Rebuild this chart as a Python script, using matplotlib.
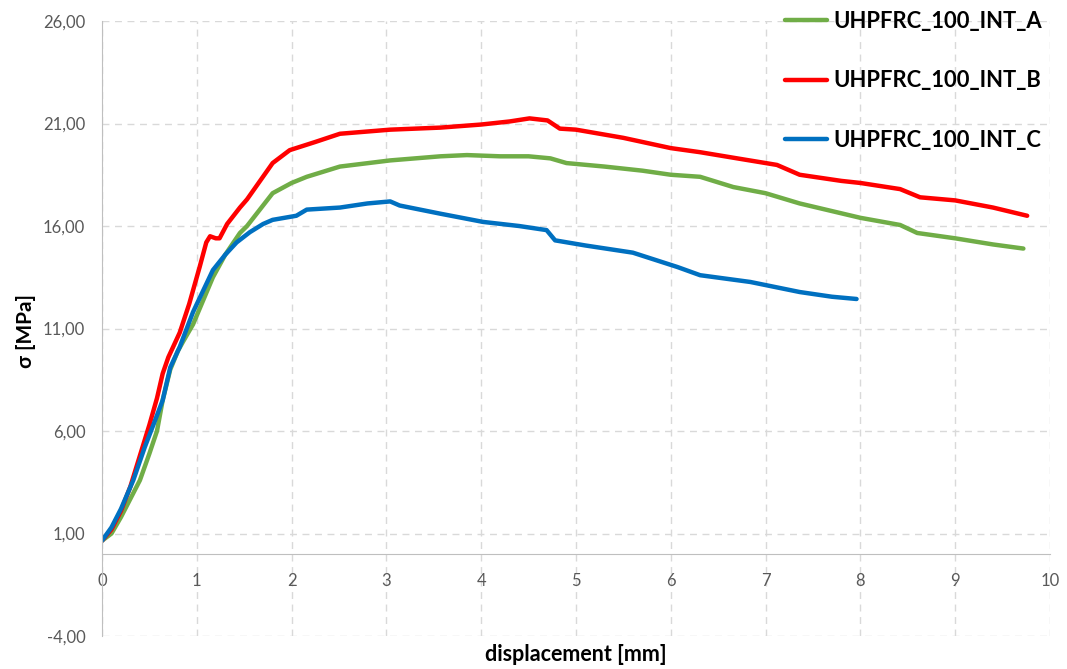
import matplotlib
matplotlib.use("Agg")
import matplotlib.pyplot as plt
from matplotlib.ticker import FuncFormatter

# data (displacement [mm], stress [MPa])
disp_a = [0, 0.1, 0.2, 0.3, 0.4, 0.5, 0.58, 0.64, 0.72, 0.8, 0.86, 0.96, 1.17, 1.3,
          1.455, 1.53, 1.8, 2.0, 2.16, 2.51, 3.04, 3.57, 3.85, 4.2, 4.5, 4.73, 4.9,
          5.3, 5.7, 6.0, 6.31, 6.66, 7.0, 7.36, 8.0, 8.42, 8.6, 9.0, 9.4, 9.72]
sig_a = [0.65, 1.0, 1.8, 2.7, 3.6, 4.9, 6.0, 7.5, 9.0, 9.9, 10.4, 11.2, 13.5, 14.6,
         15.66, 16.0, 17.6, 18.1, 18.4, 18.9, 19.2, 19.4, 19.46, 19.4, 19.4, 19.3, 19.07,
         18.9, 18.7, 18.5, 18.4, 17.9, 17.6, 17.1, 16.4, 16.05, 15.66, 15.4, 15.1, 14.9]

disp_b = [0, 0.1, 0.2, 0.3, 0.4, 0.5, 0.58, 0.64, 0.7, 0.82, 0.92, 1.03, 1.1, 1.14,
          1.2, 1.24, 1.32, 1.455, 1.53, 1.8, 1.98, 2.25, 2.51, 3.04, 3.57, 4.0, 4.3,
          4.51, 4.7, 4.83, 5.0, 5.5, 6.0, 6.31, 6.7, 7.12, 7.36, 7.8, 8.0, 8.42, 8.63,
          9.0, 9.4, 9.76]
sig_b = [0.65, 1.2, 2.1, 3.3, 4.8, 6.3, 7.6, 8.8, 9.6, 10.8, 12.2, 14.0, 15.2, 15.5,
         15.4, 15.4, 16.1, 16.9, 17.3, 19.07, 19.7, 20.1, 20.5, 20.7, 20.8, 20.95, 21.1,
         21.25, 21.15, 20.75, 20.7, 20.3, 19.8, 19.6, 19.3, 18.98, 18.5, 18.2, 18.1, 17.8,
         17.4, 17.25, 16.9, 16.5]

disp_c = [0, 0.1, 0.2, 0.33, 0.45, 0.55, 0.64, 0.72, 0.82, 0.96, 1.17, 1.3, 1.42, 1.56,
          1.7, 1.8, 2.05, 2.16, 2.51, 2.8, 3.04, 3.14, 3.57, 4.02, 4.4, 4.69, 4.78, 5.1,
          5.6, 6.07, 6.31, 6.84, 7.36, 7.7, 7.96]
sig_c = [0.65, 1.3, 2.2, 3.6, 5.2, 6.4, 7.5, 9.1, 10.1, 11.8, 13.85, 14.6, 15.2, 15.7,
         16.1, 16.3, 16.5, 16.8, 16.9, 17.1, 17.2, 17.0, 16.6, 16.2, 16.0, 15.8, 15.3, 15.05,
         14.7, 14.0, 13.6, 13.27, 12.78, 12.55, 12.44]

labels = ["UHPFRC_100_INT_A", "UHPFRC_100_INT_B", "UHPFRC_100_INT_C"]
colors = ["#70ad47", "#ff0000", "#0070c0"]
x_ticks = list(range(0, 11))
y_ticks = [-4, 1, 6, 11, 16, 21, 26]

plt.rcParams["font.family"] = ["Lato", "DejaVu Sans"]

fig = plt.figure(figsize=(10.67, 6.69), dpi=100)
ax = fig.add_axes([0.0956, 0.0493, 0.8884, 0.9193])

for d, s, lab, c in zip([disp_a, disp_b, disp_c], [sig_a, sig_b, sig_c], labels, colors):
    ax.plot(d, s, color=c, lw=3.2, label=lab, solid_capstyle="round")

ax.set_xlim(0, 10)
ax.set_ylim(-4, 26)
ax.set_xticks(x_ticks)
ax.set_yticks(y_ticks)
ax.yaxis.set_major_formatter(FuncFormatter(lambda v, p: f"{v:.2f}".replace(".", ",")))

ax.grid(True, color="#d9d9d9", linestyle=(0, (5, 4)), lw=1)
ax.set_axisbelow(True)
for sp in ["top", "right"]:
    ax.spines[sp].set_visible(False)
ax.spines["bottom"].set_position(("data", 0))
ax.spines["bottom"].set_color("#bfbfbf")
ax.spines["left"].set_color("#bfbfbf")
ax.tick_params(length=0, labelsize=12, labelcolor="#595959")
ax.tick_params(axis="x", pad=14)
ax.tick_params(axis="y", pad=12)

fig.text(0.54, 0.021, "displacement [mm]", ha="center", va="center",
         fontsize=15.5, fontweight="bold")
fig.text(0.024, 0.505, "σ [MPa]", ha="center", va="center", rotation=90,
         fontsize=15, fontweight="bold")

fig.legend(loc="upper left", bbox_to_anchor=(785 / 1067, 1 - 11 / 669), frameon=False,
           prop={"weight": "bold", "size": 15.8}, handlelength=1.9, handletextpad=0.3,
           labelspacing=1.75, borderpad=0, borderaxespad=0)

fig.savefig("out.png", dpi=100)
